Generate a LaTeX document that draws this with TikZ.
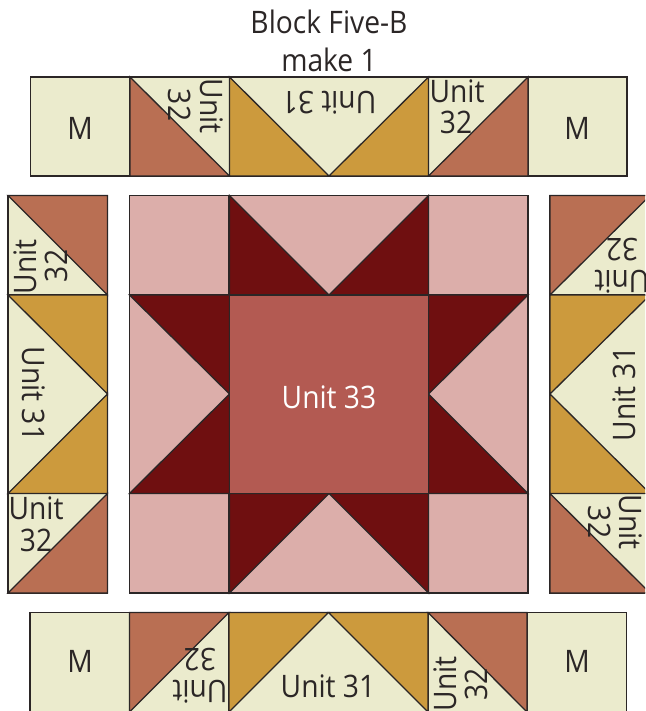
\documentclass[tikz,border=0pt]{standalone}
\usepackage{fontspec}
\setmainfont[FakeStretch=0.91]{Open Sans}
\definecolor{cream}{HTML}{EBEBCD}
\definecolor{terra}{HTML}{B96F53}
\definecolor{gold}{HTML}{CC9A3D}
\definecolor{pinkq}{HTML}{DCAEAA}
\definecolor{darkq}{HTML}{6F0F10}
\definecolor{midq}{HTML}{B35A52}
\definecolor{inkq}{HTML}{2B2626}
\tikzset{
  patch/.style={draw=inkq,line width=1.3pt,line join=miter},
  lab/.style={font=\fontsize{31}{31}\selectfont,text=inkq,inner sep=0pt,anchor=center},
}
\begin{document}
\begin{tikzpicture}[x=1pt,y=-1pt]
\useasboundingbox (0,0) rectangle (645,711);
\clip (0,0) rectangle (645,711);
% top row
\foreach \a/\b in {30.5/130,130/229.5,428.5/528,528/627}{\draw[patch,fill=cream] (\a,77) rectangle (\b,176);}
\draw[patch,fill=cream] (229.5,77) rectangle (428.5,176);
\draw[patch,fill=terra] (130,77) -- (130,176) -- (229.5,176) -- cycle;
\draw[patch,fill=gold] (229.5,77) -- (229.5,176) -- (329,176) -- cycle;
\draw[patch,fill=gold] (428.5,77) -- (428.5,176) -- (329,176) -- cycle;
\draw[patch,fill=terra] (528,77) -- (528,176) -- (428.5,176) -- cycle;
% bottom row
\foreach \a/\b in {30/129.5,129.5/229,428/527,527/626.5}{\draw[patch,fill=cream] (\a,612.5) rectangle (\b,712);}
\draw[patch,fill=cream] (229,612.5) rectangle (428,712);
\draw[patch,fill=terra] (129.5,612.5) -- (229,612.5) -- (129.5,712) -- cycle;
\draw[patch,fill=gold] (229,612.5) -- (328.5,612.5) -- (229,712) -- cycle;
\draw[patch,fill=gold] (428,612.5) -- (428,712) -- (328.5,612.5) -- cycle;
\draw[patch,fill=terra] (428,612.5) -- (527,612.5) -- (527,712) -- cycle;
% left column
\draw[patch,fill=cream] (8,195.5) rectangle (107.5,295);
\draw[patch,fill=cream] (8,295) rectangle (107.5,493.5);
\draw[patch,fill=cream] (8,493.5) rectangle (107.5,593);
\draw[patch,fill=terra] (8,195.5) -- (107.5,195.5) -- (107.5,295) -- cycle;
\draw[patch,fill=gold] (8,295) -- (107.5,295) -- (107.5,394) -- cycle;
\draw[patch,fill=gold] (8,493.5) -- (107.5,493.5) -- (107.5,394) -- cycle;
\draw[patch,fill=terra] (8,593) -- (107.5,593) -- (107.5,493.5) -- cycle;
% right column
\draw[patch,fill=cream] (550,195.5) rectangle (650,295);
\draw[patch,fill=cream] (550,295) rectangle (650,493.5);
\draw[patch,fill=cream] (550,493.5) rectangle (650,593);
\draw[patch,fill=terra] (550,195.5) -- (650,195.5) -- (550,295) -- cycle;
\draw[patch,fill=gold] (550,295) -- (650,295) -- (550,394) -- cycle;
\draw[patch,fill=gold] (550,493.5) -- (650,493.5) -- (550,394) -- cycle;
\draw[patch,fill=terra] (550,493.5) -- (650,593) -- (550,593) -- cycle;
% centre block
\foreach \a/\b in {129.5/195.5,428.5/195.5,129.5/493.5,428.5/493.5}{
  \draw[patch,fill=pinkq] (\a,\b) rectangle ++(99.5,99.5);}
\draw[patch,fill=pinkq] (229.5,195.5) rectangle (428.5,295);
\draw[patch,fill=pinkq] (229.5,493.5) rectangle (428.5,593);
\draw[patch,fill=pinkq] (129.5,295) rectangle (229.5,493.5);
\draw[patch,fill=pinkq] (428.5,295) rectangle (528,493.5);
\draw[patch,fill=darkq] (229.5,195.5) -- (229.5,295) -- (329,295) -- cycle;
\draw[patch,fill=darkq] (428.5,195.5) -- (428.5,295) -- (329,295) -- cycle;
\draw[patch,fill=darkq] (229.5,593) -- (229.5,493.5) -- (329,493.5) -- cycle;
\draw[patch,fill=darkq] (428.5,593) -- (428.5,493.5) -- (329,493.5) -- cycle;
\draw[patch,fill=darkq] (129.5,295) -- (229.5,295) -- (229.5,394) -- cycle;
\draw[patch,fill=darkq] (129.5,493.5) -- (229.5,493.5) -- (229.5,394) -- cycle;
\draw[patch,fill=darkq] (528,295) -- (428.5,295) -- (428.5,394) -- cycle;
\draw[patch,fill=darkq] (528,493.5) -- (428.5,493.5) -- (428.5,394) -- cycle;
\draw[patch,fill=midq] (229.5,295) rectangle (428.5,493.5);
% labels
\node[lab] (title1) at (329,22) {Block Five-B};
\node[lab] (title2) at (329,60) {make 1};
\node[lab] (mtl) at (80,128) {M};
\node[lab] (mtr) at (577,128) {M};
\node[lab] (mbl) at (80,661) {M};
\node[lab] (mbr) at (577,661) {M};
\node[lab,rotate=-90] (ta) at (212,106) {Unit};
\node[lab,rotate=-90] (tb) at (180,105) {32};
\node[lab,rotate=180] (tc) at (329,103) {Unit 31};
\node[lab] (td) at (457,91) {Unit};
\node[lab] (te) at (456,122) {32};
\node[lab,rotate=90] (la) at (25,267) {Unit};
\node[lab,rotate=90] (lb) at (56,266) {32};
\node[lab,rotate=-90] (lc) at (34,394) {Unit 31};
\node[lab] (ld) at (36,508) {Unit};
\node[lab] (le) at (36,540) {32};
\node[lab,rotate=180] (ra) at (622,250) {32};
\node[lab,rotate=180] (rb) at (622,282) {Unit};
\node[lab,rotate=90] (rc) at (624,394) {Unit 31};
\node[lab,rotate=-90] (rd) at (631,522) {Unit};
\node[lab,rotate=-90] (re) at (600,522) {32};
\node[lab,rotate=180] (ba) at (200,660) {32};
\node[lab,rotate=180] (bb) at (200,692) {Unit};
\node[lab] (bc) at (328,686) {Unit 31};
\node[lab,rotate=90] (bd) at (445,684) {Unit};
\node[lab,rotate=90] (be) at (476,684) {32};
\node[lab,text=white] (centre) at (329,397) {Unit 33};
\end{tikzpicture}
\end{document}
